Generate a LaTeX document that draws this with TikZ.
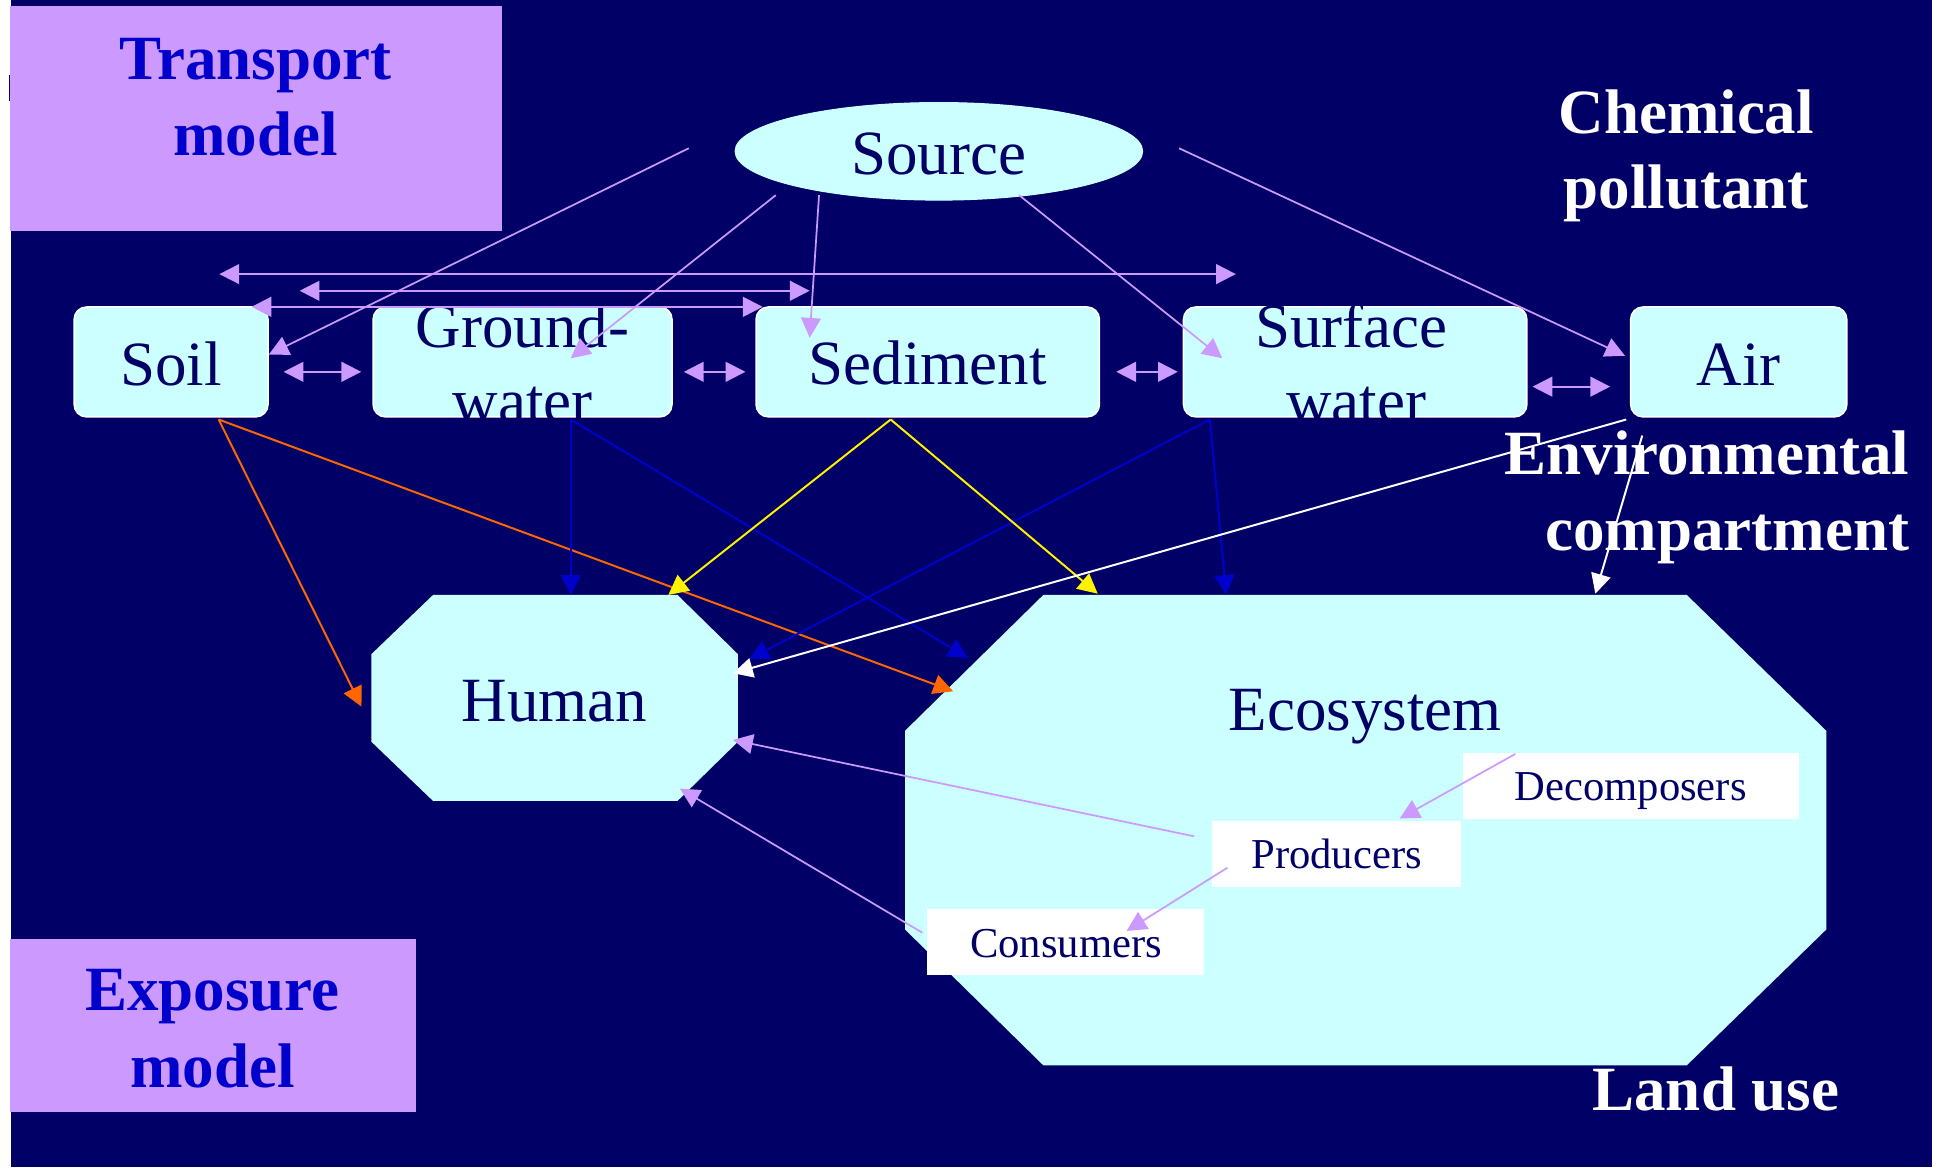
\documentclass[tikz,border=0pt]{standalone}
\usepackage{fontspec}
\setmainfont{Liberation Serif}
\usetikzlibrary{arrows.meta,calc,shapes.geometric}

\definecolor{navy}{HTML}{000066}
\definecolor{pale}{HTML}{CCFFFF}
\definecolor{lilac}{HTML}{CC99FF}
\definecolor{royal}{HTML}{0000CC}
\definecolor{tangerine}{HTML}{FF6600}

\begin{document}
\begin{tikzpicture}[
  x=0.5pt, y=-0.5pt,
  cbox/.style={draw=white, line width=0.6pt, fill=pale, rounded corners=5pt,
    inner sep=0pt, minimum height=44.5pt},
  wbox/.style={fill=white, inner sep=0pt, minimum height=26.5pt},
  modelbox/.style={fill=lilac, inner sep=0pt},
  shapeonly/.style={inner sep=0pt},
  big/.style={font=\fontsize{25.5}{30.5}\selectfont, text=navy, inner sep=0pt, anchor=base},
  small/.style={font=\fontsize{17.25}{20}\selectfont, text=navy, inner sep=0pt, anchor=base},
  head/.style={font=\bfseries\fontsize{25.5}{30.5}\selectfont, inner sep=0pt, anchor=base},
  tip/.style={-{Triangle[length=8pt,width=8pt]}},
  twotip/.style={{Triangle[length=8pt,width=8pt]}-{Triangle[length=8pt,width=8pt]}},
  lav/.style={tip, lilac, line width=0.7pt},
  lavboth/.style={twotip, lilac, line width=0.8pt},
  orng/.style={tip, tangerine, line width=0.8pt},
  blu/.style={tip, royal, line width=0.8pt},
  yel/.style={tip, yellow, line width=0.8pt},
  wht/.style={tip, white, line width=0.8pt},
]
\useasboundingbox (0,0) rectangle (1568,945);

% page background with thin white margins
\fill[white] (0,0) rectangle (1568,945);
\fill[navy] (9,0) rectangle (1564,945);
\draw[navy, line width=1pt] (8.5,61) -- (8.5,82);

% model panels
\node[modelbox, minimum width=199pt, minimum height=91pt] (transport) at (207,96) {};
\node[head, text=royal] (transportA) at (207,64) {Transport};
\node[head, text=royal] (transportB) at (207,126) {model};

\node[modelbox, minimum width=164.5pt, minimum height=70pt] (exposure) at (172.5,830) {};
\node[head, text=royal] (exposureA) at (172,818) {Exposure};
\node[head, text=royal] (exposureB) at (172,880) {model};

% side captions
\node[head, text=white] (chemA) at (1365,108) {Chemical};
\node[head, text=white] (chemB) at (1365,168.5) {pollutant};
\node[head, text=white, anchor=base east] (envA) at (1546,384) {Environmental};
\node[head, text=white, anchor=base east] (envB) at (1546,446) {compartment};
\node[head, text=white] (landuse) at (1389,899) {Land use};

% source
\node[ellipse, fill=pale, draw=pale, minimum width=165pt, minimum height=39.5pt,
  inner sep=0pt] (source) at (760,122.5) {};
\node[big] (sourcetext) at (760,141) {Source};

% environmental compartments
\node[cbox, minimum width=78.5pt] (soil) at (138.5,293) {};
\node[cbox, minimum width=121pt] (gw) at (423,293) {};
\node[cbox, minimum width=139pt] (sed) at (751,293) {};
\node[cbox, minimum width=139pt] (surf) at (1097,293) {};
\node[cbox, minimum width=87.5pt] (air) at (1407.5,293) {};

\node[big] (soiltext) at (138.5,312) {Soil};
\node[big] (sedtext) at (751,311) {Sediment};
\node[big] (airtext) at (1407.5,312) {Air};
\begin{scope}
  \clip[rounded corners=5pt] (gw.south west) rectangle (gw.north east);
  \node[big] (gwA) at (423,281) {Ground-};
  \node[big] (gwB) at (423,342) {water};
\end{scope}
\begin{scope}
  \clip[rounded corners=5pt] (surf.south west) rectangle (surf.north east);
  \node[big] (surfA) at (1094,281) {Surface};
  \node[big] (surfB) at (1098,342) {water};
\end{scope}

% human (octagon)
\node[shapeonly, minimum width=148pt, minimum height=83pt] (human) at (449,565) {};
\fill[pale] ($(human.north west)+(50,0)$) -- ($(human.north east)+(-49,0)$)
  -- ($(human.north east)+(0,48)$) -- ($(human.south east)+(0,-48)$)
  -- ($(human.south east)+(-49,0)$) -- ($(human.south west)+(50,0)$)
  -- ($(human.south west)+(0,-48)$) -- ($(human.north west)+(0,48)$) -- cycle;
\node[big] (humantext) at (449,584) {Human};

% ecosystem (octagon)
\node[shapeonly, minimum width=372.5pt, minimum height=190pt] (eco) at (1105.5,672) {};
\fill[pale] ($(eco.north west)+(112,0)$) -- ($(eco.north east)+(-113,0)$)
  -- ($(eco.north east)+(0,110)$) -- ($(eco.south east)+(0,-110)$)
  -- ($(eco.south east)+(-113,0)$) -- ($(eco.south west)+(112,0)$)
  -- ($(eco.south west)+(0,-110)$) -- ($(eco.north west)+(0,110)$) -- cycle;
\node[big] (ecotext) at (1105,591) {Ecosystem};

% trophic groups
\node[wbox, minimum width=136pt, minimum height=26.75pt] (decomp) at (1320,636) {};
\node[wbox, minimum width=101pt] (prod) at (1082,691.5) {};
\node[wbox, minimum width=112.5pt] (cons) at (862.5,762.5) {};
\node[small] (decomptext) at (1320,648) {Decomposers};
\node[small] (prodtext) at (1082,703) {Producers};
\node[small] (constext) at (863,775) {Consumers};

% emissions from the source
\draw[lav] ($(source.west)+(-37,-2.5)$) -- ($(soil.east)+(0,-6)$);
\draw[lav] ($(source.center)+(-132,35.5)$) -- ($(gw.center)+(39,-3)$);
\draw[lav] ($(source.center)+(-97,35.5)$) -- ($(sed.north west)+(44,25.5)$);
\draw[lav] ($(source.center)+(65,35.5)$) -- ($(surf.west)+(32,-3)$);
\draw[lav] ($(source.east)+(29,-2.5)$) -- ($(air.west)+(-4,-5)$);

% exchange between compartments
\draw[lavboth] ($(soil.north east)+(-40,-26)$) -- ($(surf.north west)+(43,-26)$);
\draw[lavboth] ($(soil.north east)+(25,-12.5)$) -- ($(sed.north west)+(44,-12.5)$);
\draw[lavboth] ($(soil.north east)+(-14,0.5)$) -- ($(sed.north west)+(6,0.5)$);
\draw[lavboth] ($(soil.east)+(12,8)$) -- ($(gw.west)+(-9,8)$);
\draw[lavboth] ($(gw.east)+(9,8)$) -- ($(sed.west)+(-8,8)$);
\draw[lavboth] ($(sed.east)+(13,8)$) -- ($(surf.west)+(-4,8)$);
\draw[lavboth] ($(surf.east)+(4,20)$) -- ($(air.west)+(-16,20)$);

% exposure pathways
\draw[orng] ($(soil.south)+(38.5,1.5)$) -- ($(human.west)+(-8,7)$);
\draw[orng] ($(soil.south)+(38.5,1.5)$) -- ($(eco.north west)+(39,78)$);
\draw[blu] ($(gw.south)+(39,1.5)$) -- ($(human.north)+(13,0)$);
\draw[blu] ($(gw.south)+(39,1.5)$) -- ($(eco.north west)+(51,51)$);
\draw[blu] ($(surf.south west)+(22,1.5)$) -- ($(human.north east)+(9,52)$);
\draw[blu] ($(surf.south west)+(22,1.5)$) -- ($(eco.north west)+(260,0)$);
\draw[yel] ($(sed.south)+(-30,1.5)$) -- ($(human.north)+(92,0)$);
\draw[yel] ($(sed.south)+(-30,1.5)$) -- ($(eco.north west)+(156,-1)$);
\draw[wht] ($(air.south west)+(-3,1.5)$) -- ($(human.east)+(-4,-20)$);
\draw[wht] ($(air.south west)+(10,14.5)$) -- ($(eco.north east)+(-187,-1)$);

% food chain and transfer to humans
\draw[lav] ($(prod.west)+(-14,-14.5)$) -- ($(human.east)+(-4,34)$);
\draw[lav] ($(cons.west)+(-3,-7.5)$) -- ($(human.south east)+(-47,-10)$);
\draw[lav] ($(decomp.north west)+(43,1.5)$) -- ($(prod.north)+(51,-2)$);
\draw[lav] ($(prod.south west)+(13,-16)$) -- ($(cons.north)+(49.5,18)$);
\end{tikzpicture}
\end{document}
